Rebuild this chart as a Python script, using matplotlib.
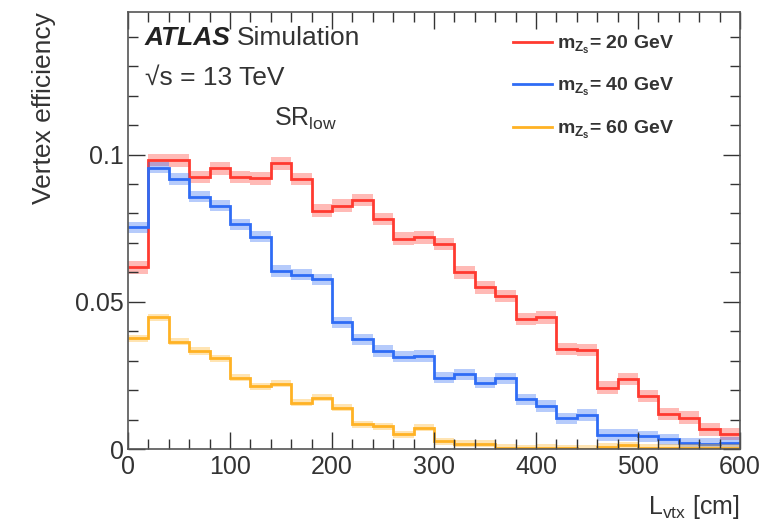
import numpy as np
import matplotlib
matplotlib.use("Agg")
import matplotlib.pyplot as plt
from matplotlib.ticker import MultipleLocator, FuncFormatter

plt.rcParams['font.family'] = ['Liberation Sans', 'DejaVu Sans']
plt.rcParams['mathtext.fontset'] = 'custom'
plt.rcParams['mathtext.rm'] = 'Liberation Sans'
plt.rcParams['mathtext.it'] = 'Liberation Sans:italic'
plt.rcParams['mathtext.bf'] = 'Liberation Sans:bold'

# Bin edges in L_vtx [cm], 20 cm bins
bin_edges = np.arange(0, 620, 20)

# Vertex efficiency per bin
eff_20 = [0.0617, 0.0982, 0.0980, 0.0923, 0.0953, 0.0923, 0.0919, 0.0970, 0.0917, 0.0810,
          0.0827, 0.0846, 0.0781, 0.0715, 0.0719, 0.0696, 0.0600, 0.0549, 0.0520, 0.0441,
          0.0447, 0.0339, 0.0336, 0.0209, 0.0237, 0.0180, 0.0120, 0.0107, 0.0067, 0.0052]
eff_40 = [0.0753, 0.0955, 0.0917, 0.0857, 0.0827, 0.0764, 0.0721, 0.0605, 0.0592, 0.0577,
          0.0430, 0.0373, 0.0333, 0.0313, 0.0316, 0.0243, 0.0254, 0.0226, 0.0240, 0.0169,
          0.0146, 0.0104, 0.0116, 0.0048, 0.0048, 0.0044, 0.0033, 0.0019, 0.0017, 0.0021]
eff_60 = [0.0376, 0.0447, 0.0365, 0.0333, 0.0308, 0.0243, 0.0214, 0.0222, 0.0158, 0.0175,
          0.0141, 0.0084, 0.0078, 0.0050, 0.0072, 0.0027, 0.0018, 0.0018, 0.0005, 0.0002,
          0.0005, 0.0002, 0.0001, 0.0008, 0.0013, 0.0005, 0.0005, 0.0004, 0.0004, 0.0004]

# uncertainty band half-widths
err_20 = 0.0021
err_40 = 0.0019
err_60 = 0.0012

labels = [r"$\mathbf{m}_{\mathbf{Z_s}}$= 20 GeV",
          r"$\mathbf{m}_{\mathbf{Z_s}}$= 40 GeV",
          r"$\mathbf{m}_{\mathbf{Z_s}}$= 60 GeV"]
colors = ['#ff3a30', '#2f6cf5', '#ffb224']

fig = plt.figure(figsize=(7.72, 5.24), dpi=100)
ax = fig.add_axes([0.1658, 0.143, 0.7928, 0.8345])

series = [(eff_20, err_20), (eff_40, err_40), (eff_60, err_60)]
handles = []
for (vals, err), col, lab in zip(series, colors, labels):
    vals = np.array(vals)
    ax.stairs(vals + err, bin_edges, baseline=np.clip(vals - err, 0, None),
              fill=True, color=col, alpha=0.35, lw=0)
    h = ax.stairs(vals, bin_edges, color=col, lw=2.0, baseline=None, label=lab)
    handles.append(h)

ax.set_xlim(0, 600)
ax.set_ylim(0, 0.1485)

ax.xaxis.set_major_locator(MultipleLocator(100))
ax.xaxis.set_minor_locator(MultipleLocator(20))
ax.yaxis.set_major_locator(MultipleLocator(0.05))
ax.yaxis.set_minor_locator(MultipleLocator(0.01))
ax.yaxis.set_major_formatter(FuncFormatter(lambda v, p: "%g" % round(v, 3)))

ax.tick_params(which='both', direction='in', top=True, right=True, labelsize=18, colors='#333333')
ax.tick_params(which='major', length=12, width=1.0)
ax.tick_params(which='minor', length=7, width=1.0)
ax.tick_params(axis='x', pad=4)
ax.tick_params(axis='y', pad=3)
for s in ax.spines.values():
    s.set_color('#555555')
    s.set_linewidth(1.2)

ax.set_ylabel("Vertex efficiency", fontsize=19, color='#333333', loc='top', labelpad=14)
ax.set_xlabel(r"L$_{\rm vtx}$ [cm]", fontsize=18, color='#333333', loc='right', labelpad=10)

ax.text(0.027, 0.94, "ATLAS", transform=ax.transAxes, fontsize=19, fontweight='bold',
        fontstyle='italic', color='#222222', va='center')
ax.text(0.178, 0.94, "Simulation", transform=ax.transAxes, fontsize=19, color='#333333', va='center')
ax.text(0.027, 0.85, "\u221As = 13 TeV", transform=ax.transAxes, fontsize=19,
        color='#333333', va='center')
ax.text(0.238, 0.755, r"SR$_{\rm low}$", transform=ax.transAxes, fontsize=18,
        color='#333333', va='center')

leg = ax.legend(handles=handles, loc='upper left', bbox_to_anchor=(0.6, 0.99), frameon=False,
                prop={'size': 14, 'weight': 'bold'}, handlelength=2.0, handletextpad=0.3,
                labelspacing=1.05, labelcolor='#333333')

fig.savefig("out.png", dpi=100)
